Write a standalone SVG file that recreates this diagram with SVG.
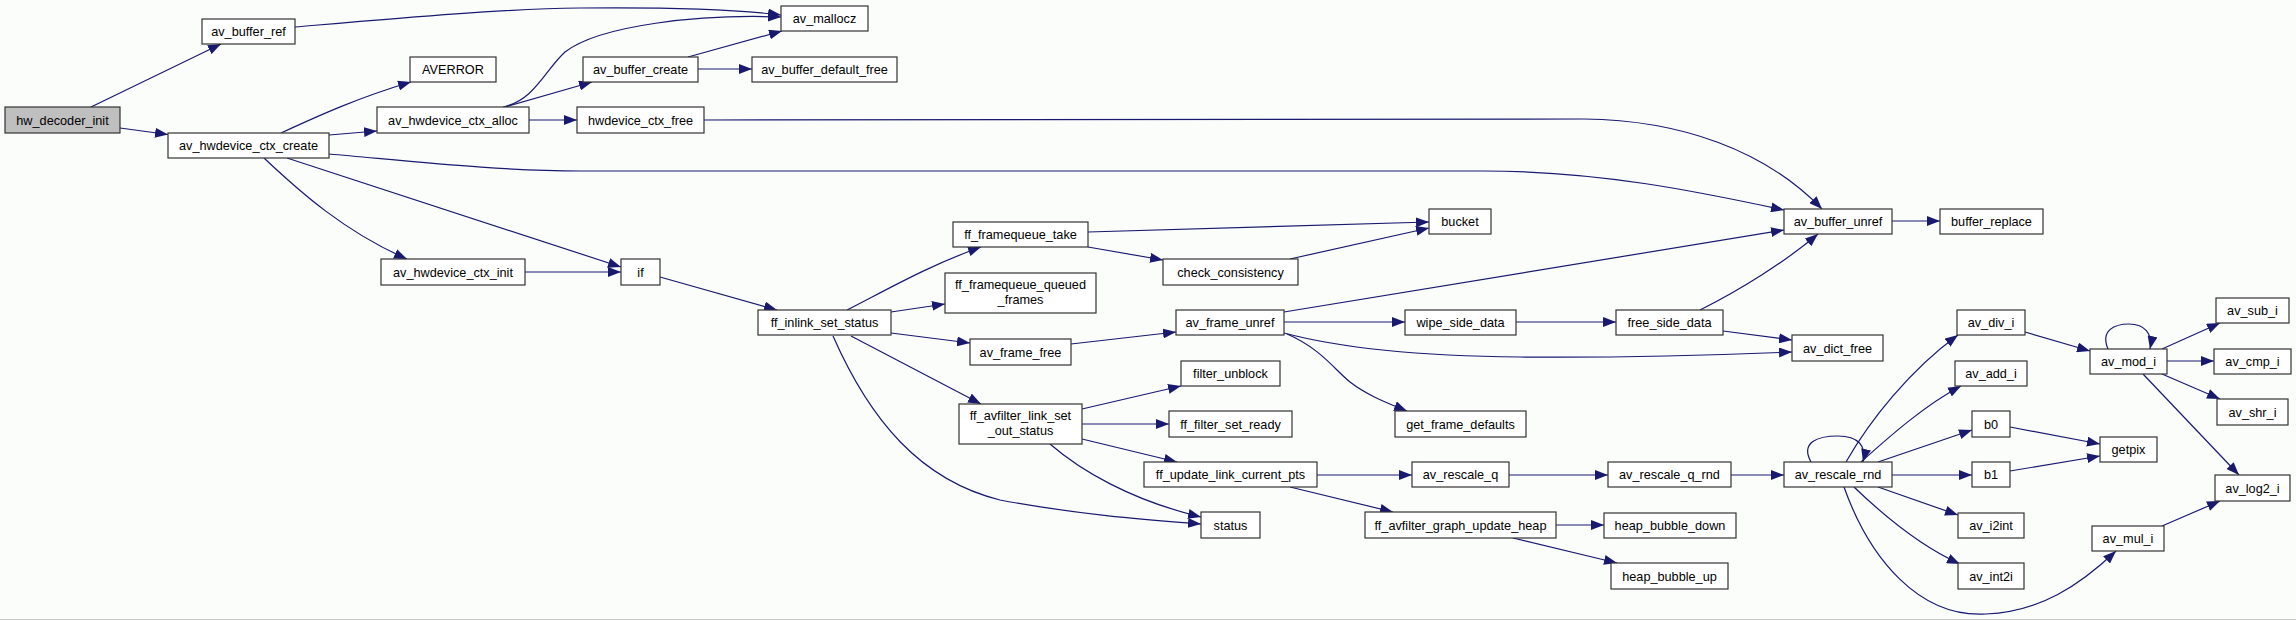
<svg xmlns="http://www.w3.org/2000/svg" width="2296" height="620" viewBox="0 0 2296 620">
<style>
.n rect{fill:#fff;stroke:#333;stroke-width:1.2}
.n.root rect{fill:#bfbfbf}
text{font-family:"Liberation Sans",Arial,Helvetica,sans-serif;font-size:12.7px;text-anchor:middle;fill:#000}
.e path{fill:none;stroke:#191970;stroke-width:1.2;marker-end:url(#a)}
</style>
<defs>
<marker id="a" markerUnits="userSpaceOnUse" viewBox="0 0 13 10" refX="13" refY="5" markerWidth="13" markerHeight="10" orient="auto">
<path d="M0,0 L13,5 L0,10 z" fill="#191970"/>
</marker>
</defs>
<rect x="0" y="0" width="2296" height="620" fill="#fbfdfb"/>
<line x1="0" y1="619.5" x2="2296" y2="619.5" stroke="#c8c8c8" stroke-width="1"/>
<g id="edges" class="e">
<path d="M91,107 L221,44"/>
<path d="M120,128 L168,134.5"/>
<path d="M295,27 C400,18 500,9 580,8 C680,7 740,10 781,15"/>
<path d="M503,107 C535,100 545,70 565,52 C600,25 700,14 781,17"/>
<path d="M688,57 L782,31"/>
<path d="M505,107 L592,82"/>
<path d="M698,69 L752,69"/>
<path d="M529,120 L577,120"/>
<path d="M704,120 L1584,119 C1680,120 1765,150 1822,209"/>
<path d="M281,133 C320,115 360,97 411,82"/>
<path d="M329,135 L377,131"/>
<path d="M329,154 C420,162 500,171 580,171 L1484,171 C1600,171 1700,192 1784,210"/>
<path d="M287,158 L621,267"/>
<path d="M264,158 C300,192 345,232 407,259"/>
<path d="M525,272 L621,272"/>
<path d="M660,277 L777,310"/>
<path d="M847,310 C890,288 930,265 981,247"/>
<path d="M891,312 L945,304"/>
<path d="M891,333 L970,343"/>
<path d="M851,336 L981,404"/>
<path d="M833,336 C870,420 920,480 1000,500 C1080,515 1150,520 1201,524"/>
<path d="M1050,444 C1080,470 1130,500 1201,517"/>
<path d="M1082,409 L1181,386"/>
<path d="M1082,424 L1169,424"/>
<path d="M1082,439 L1177,462"/>
<path d="M1088,232 L1429,222"/>
<path d="M1088,247 L1163,260"/>
<path d="M1290,259 L1429,228"/>
<path d="M1071,344 L1176,332"/>
<path d="M1284,312 L1784,230"/>
<path d="M1284,322 L1405,322"/>
<path d="M1516,322 L1616,322"/>
<path d="M1284,333 C1340,348 1420,356 1520,357 C1640,358 1720,355 1792,352"/>
<path d="M1287,334 C1320,348 1335,370 1350,382 C1368,396 1390,404 1407,411"/>
<path d="M1723,331 L1792,340"/>
<path d="M1700,310 C1740,290 1785,262 1818,234"/>
<path d="M1892,221 L1940,221"/>
<path d="M1317,475 L1412,475"/>
<path d="M1290,487 L1393,512"/>
<path d="M1509,475 L1608,475"/>
<path d="M1731,475 L1784,475"/>
<path d="M1556,525 L1604,525"/>
<path d="M1513,538 L1617,563"/>
<path d="M1811,462 C1800,442 1818,436 1838,436 C1858,436 1867,446 1863,462"/>
<path d="M1846,462 C1870,420 1910,370 1958,335"/>
<path d="M1861,462 C1890,436 1925,405 1961,386"/>
<path d="M1878,462 L1972,430"/>
<path d="M1892,475 L1972,475"/>
<path d="M1878,487 L1958,515"/>
<path d="M1854,487 C1880,512 1920,546 1960,564"/>
<path d="M1844,487 C1870,560 1920,618 1986,614 C2040,612 2080,585 2116,551"/>
<path d="M2010,427 L2100,444"/>
<path d="M2010,471 L2100,456"/>
<path d="M2025,332 L2090,351"/>
<path d="M2108,349 C2100,330 2115,324 2129,324 C2145,324 2153,334 2150,349"/>
<path d="M2162,349 L2220,323"/>
<path d="M2167,361 L2214,361"/>
<path d="M2162,374 L2220,399"/>
<path d="M2143,374 L2239,475"/>
<path d="M2162,526 L2220,501"/>
</g>
<g id="hw_decoder_init" class="n root"><rect x="5" y="107" width="115" height="26"/><text x="62.5" y="124.5">hw_decoder_init</text></g>
<g id="av_buffer_ref" class="n"><rect x="202" y="19" width="93" height="25"/><text x="248.5" y="36">av_buffer_ref</text></g>
<g id="AVERROR" class="n"><rect x="410" y="57" width="86" height="25"/><text x="453" y="74">AVERROR</text></g>
<g id="av_hwdevice_ctx_alloc" class="n"><rect x="377" y="107" width="152" height="26"/><text x="453" y="124.5">av_hwdevice_ctx_alloc</text></g>
<g id="av_hwdevice_ctx_create" class="n"><rect x="168" y="133" width="161" height="25"/><text x="248.5" y="150">av_hwdevice_ctx_create</text></g>
<g id="av_hwdevice_ctx_init" class="n"><rect x="381" y="259" width="144" height="26"/><text x="453" y="276.5">av_hwdevice_ctx_init</text></g>
<g id="av_mallocz" class="n"><rect x="781" y="6" width="87" height="25"/><text x="824.5" y="23">av_mallocz</text></g>
<g id="av_buffer_create" class="n"><rect x="583" y="57" width="115" height="25"/><text x="640.5" y="74">av_buffer_create</text></g>
<g id="av_buffer_default_free" class="n"><rect x="752" y="57" width="145" height="25"/><text x="824.5" y="74">av_buffer_default_free</text></g>
<g id="hwdevice_ctx_free" class="n"><rect x="577" y="107" width="127" height="26"/><text x="640.5" y="124.5">hwdevice_ctx_free</text></g>
<g id="if" class="n"><rect x="621" y="259" width="39" height="26"/><text x="640.5" y="276.5">if</text></g>
<g id="ff_framequeue_take" class="n"><rect x="953" y="222" width="135" height="25"/><text x="1020.5" y="239">ff_framequeue_take</text></g>
<g id="ff_framequeue_queued_frames" class="n"><rect x="945" y="273" width="151" height="40"/><text x="1020.5" y="288.5">ff_framequeue_queued</text><text x="1020.5" y="303.5">_frames</text></g>
<g id="ff_inlink_set_status" class="n"><rect x="758" y="310" width="133" height="25"/><text x="824.5" y="327">ff_inlink_set_status</text></g>
<g id="av_frame_free" class="n"><rect x="970" y="339" width="101" height="26"/><text x="1020.5" y="356.5">av_frame_free</text></g>
<g id="ff_avfilter_link_set_out_status" class="n"><rect x="959" y="404" width="123" height="40"/><text x="1020.5" y="420">ff_avfilter_link_set</text><text x="1020.5" y="435">_out_status</text></g>
<g id="bucket" class="n"><rect x="1429" y="209" width="62" height="25"/><text x="1460" y="226">bucket</text></g>
<g id="check_consistency" class="n"><rect x="1163" y="259" width="135" height="26"/><text x="1230.5" y="276.5">check_consistency</text></g>
<g id="av_buffer_unref" class="n"><rect x="1784" y="209" width="108" height="25"/><text x="1838" y="226">av_buffer_unref</text></g>
<g id="buffer_replace" class="n"><rect x="1940" y="209" width="103" height="25"/><text x="1991.5" y="226">buffer_replace</text></g>
<g id="av_frame_unref" class="n"><rect x="1176" y="310" width="108" height="25"/><text x="1230" y="327">av_frame_unref</text></g>
<g id="wipe_side_data" class="n"><rect x="1405" y="310" width="111" height="25"/><text x="1460.5" y="327">wipe_side_data</text></g>
<g id="free_side_data" class="n"><rect x="1616" y="310" width="107" height="25"/><text x="1669.5" y="327">free_side_data</text></g>
<g id="filter_unblock" class="n"><rect x="1181" y="361" width="99" height="25"/><text x="1230.5" y="378">filter_unblock</text></g>
<g id="ff_filter_set_ready" class="n"><rect x="1169" y="411" width="123" height="26"/><text x="1230.5" y="428.5">ff_filter_set_ready</text></g>
<g id="get_frame_defaults" class="n"><rect x="1395" y="411" width="131" height="26"/><text x="1460.5" y="428.5">get_frame_defaults</text></g>
<g id="ff_update_link_current_pts" class="n"><rect x="1144" y="462" width="173" height="25"/><text x="1230.5" y="479">ff_update_link_current_pts</text></g>
<g id="av_rescale_q" class="n"><rect x="1412" y="462" width="97" height="25"/><text x="1460.5" y="479">av_rescale_q</text></g>
<g id="status" class="n"><rect x="1201" y="512" width="59" height="26"/><text x="1230.5" y="529.5">status</text></g>
<g id="ff_avfilter_graph_update_heap" class="n"><rect x="1365" y="512" width="191" height="26"/><text x="1460.5" y="529.5">ff_avfilter_graph_update_heap</text></g>
<g id="av_rescale_q_rnd" class="n"><rect x="1608" y="462" width="123" height="25"/><text x="1669.5" y="479">av_rescale_q_rnd</text></g>
<g id="heap_bubble_down" class="n"><rect x="1604" y="513" width="132" height="25"/><text x="1670" y="530">heap_bubble_down</text></g>
<g id="heap_bubble_up" class="n"><rect x="1611" y="563" width="117" height="26"/><text x="1669.5" y="580.5">heap_bubble_up</text></g>
<g id="av_rescale_rnd" class="n"><rect x="1784" y="462" width="108" height="25"/><text x="1838" y="479">av_rescale_rnd</text></g>
<g id="av_dict_free" class="n"><rect x="1792" y="335" width="91" height="26"/><text x="1837.5" y="352.5">av_dict_free</text></g>
<g id="av_div_i" class="n"><rect x="1957" y="310" width="68" height="25"/><text x="1991" y="327">av_div_i</text></g>
<g id="av_add_i" class="n"><rect x="1955" y="361" width="72" height="25"/><text x="1991" y="378">av_add_i</text></g>
<g id="b0" class="n"><rect x="1972" y="411" width="38" height="26"/><text x="1991" y="428.5">b0</text></g>
<g id="b1" class="n"><rect x="1972" y="462" width="38" height="25"/><text x="1991" y="479">b1</text></g>
<g id="av_i2int" class="n"><rect x="1958" y="513" width="66" height="25"/><text x="1991" y="530">av_i2int</text></g>
<g id="av_int2i" class="n"><rect x="1958" y="563" width="66" height="26"/><text x="1991" y="580.5">av_int2i</text></g>
<g id="av_mod_i" class="n"><rect x="2090" y="349" width="77" height="25"/><text x="2128.5" y="366">av_mod_i</text></g>
<g id="getpix" class="n"><rect x="2100" y="437" width="57" height="25"/><text x="2128.5" y="454">getpix</text></g>
<g id="av_mul_i" class="n"><rect x="2092" y="526" width="72" height="25"/><text x="2128" y="543">av_mul_i</text></g>
<g id="av_sub_i" class="n"><rect x="2216" y="298" width="73" height="25"/><text x="2252.5" y="315">av_sub_i</text></g>
<g id="av_cmp_i" class="n"><rect x="2214" y="349" width="77" height="25"/><text x="2252.5" y="366">av_cmp_i</text></g>
<g id="av_shr_i" class="n"><rect x="2217" y="399" width="71" height="26"/><text x="2252.5" y="416.5">av_shr_i</text></g>
<g id="av_log2_i" class="n"><rect x="2215" y="475" width="75" height="26"/><text x="2252.5" y="492.5">av_log2_i</text></g>
</svg>
